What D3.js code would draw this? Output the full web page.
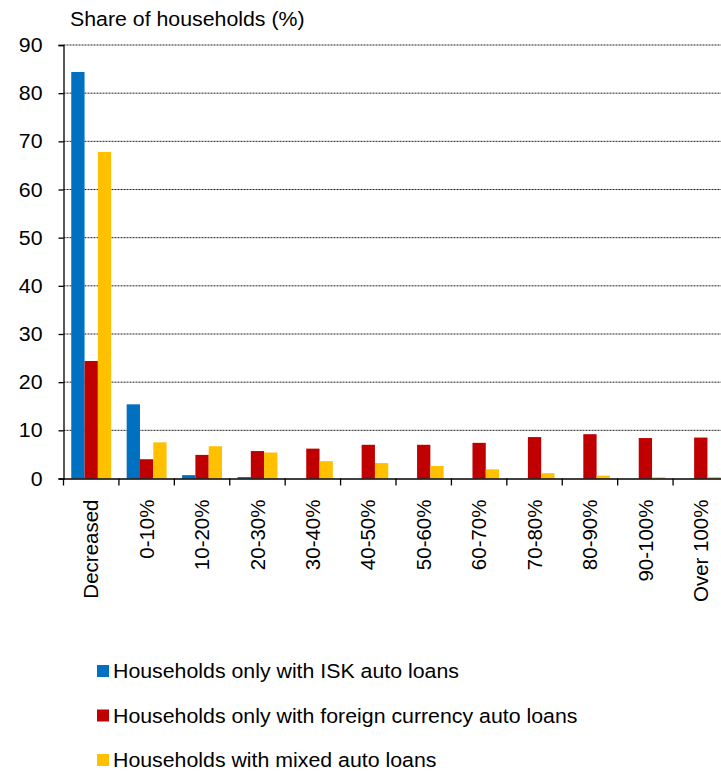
<!DOCTYPE html>
<html>
<head>
<meta charset="utf-8">
<script src="https://cdn.jsdelivr.net/npm/d3@7"></script>
<style>
  html, body { margin: 0; padding: 0; background: #fff; }
  svg { display: block; }
  text { font-family: "Liberation Sans", Arial, sans-serif; fill: #000; }
</style>
</head>
<body>
<svg id="chart" width="721" height="771"></svg>
<script>
// Change categories (x axis)
const categories = ["Decreased", "0-10%", "10-20%", "20-30%", "30-40%", "40-50%",
  "50-60%", "60-70%", "70-80%", "80-90%", "90-100%", "Over 100%"];

// Share of households (%) per category
const iskOnly     = [84.4, 15.4, 0.7, 0.3, 0, 0, 0, 0, 0, 0, 0, 0];
const foreignOnly = [24.4, 4.0, 4.9, 5.7, 6.2, 7.0, 7.0, 7.4, 8.6, 9.2, 8.4, 8.5];
const mixed       = [67.8, 7.5, 6.7, 5.4, 3.6, 3.2, 2.6, 1.9, 1.1, 0.6, 0.25, 0.3];

const seriesNames = [
  "Households only with ISK auto loans",
  "Households only with foreign currency auto loans",
  "Households with mixed auto loans"
];
const seriesColors = ["#0070C0", "#C00000", "#FFC000"];
const yTicks = [0, 10, 20, 30, 40, 50, 60, 70, 80, 90];
const yTitle = "Share of households (%)";

const seriesValues = [iskOnly, foreignOnly, mixed];
const svg = d3.select("#chart");
const fontSize = 20.5;
const stretch = 1.04; // slightly wide lettering for horizontal labels

const plotLeft = 63.5, plotRight = 728.5, plotTop = 45, plotBottom = 478.5;

const x = d3.scaleBand().domain(categories).range([plotLeft, plotRight]).padding(0);
const bw = x.bandwidth();
const groupGap = bw * 0.28;
const x1 = d3.scaleBand().domain(d3.range(3)).range([groupGap / 2, bw - groupGap / 2]).padding(0);
const y = d3.scaleLinear().domain([0, 90]).range([plotBottom, plotTop]);

// Gridlines
svg.append("g")
  .selectAll("line")
  .data(yTicks.filter(d => d > 0))
  .join("line")
  .attr("x1", plotLeft).attr("x2", plotRight)
  .attr("y1", d => y(d)).attr("y2", d => y(d))
  .attr("stroke", "#222")
  .attr("stroke-width", 1)
  .attr("stroke-dasharray", "2,1");

// Bars
const rows = categories.map((c, i) => ({ c, vals: seriesValues.map(s => s[i]) }));
const groups = svg.append("g").selectAll("g")
  .data(rows)
  .join("g")
  .attr("transform", d => `translate(${x(d.c)},0)`);
groups.selectAll("rect")
  .data(d => d.vals.map((v, k) => ({ v, k })))
  .join("rect")
  .attr("x", d => x1(d.k))
  .attr("width", x1.bandwidth())
  .attr("y", d => y(d.v))
  .attr("height", d => y(0) - y(d.v))
  .attr("fill", d => seriesColors[d.k]);

// Y axis
const yAxis = svg.append("g")
  .attr("transform", `translate(${plotLeft},0)`)
  .call(d3.axisLeft(y).tickValues(yTicks).tickSize(5).tickPadding(0).tickFormat(d3.format("d")));
yAxis.select(".domain").attr("stroke", "#000").attr("stroke-width", 1.3);
yAxis.selectAll(".tick line").attr("stroke", "#000").attr("stroke-width", 1.3);
yAxis.selectAll(".tick text")
  .attr("x", null)
  .attr("transform", `translate(-21,0) scale(${stretch},1)`)
  .style("font-family", "Liberation Sans, Arial, sans-serif")
  .style("font-size", fontSize + "px")
  .attr("fill", "#000");

// X axis
const xAxis = svg.append("g")
  .attr("transform", `translate(0,${plotBottom})`)
  .call(d3.axisBottom(x).tickSize(0).tickFormat(""));
xAxis.select(".domain").attr("stroke", "#000").attr("stroke-width", 1.3);
xAxis.selectAll(".tick").remove();

// Category separators below the axis
svg.append("g")
  .selectAll("line")
  .data(categories)
  .join("line")
  .attr("x1", d => x(d)).attr("x2", d => x(d))
  .attr("y1", plotBottom).attr("y2", plotBottom + 7)
  .attr("stroke", "#000").attr("stroke-width", 1.3);

// Rotated category labels
svg.append("g")
  .selectAll("text")
  .data(categories)
  .join("text")
  .attr("transform", d => `translate(${x(d) + bw / 2},${plotBottom + 21}) rotate(-90)`)
  .attr("text-anchor", "end")
  .attr("dy", "0.35em")
  .style("font-size", fontSize + "px")
  .text(d => d);

// Axis title
svg.append("text")
  .attr("transform", `translate(70,26) scale(${stretch},1)`)
  .style("font-size", fontSize + "px")
  .text(yTitle);

// Legend
const legend = svg.append("g")
  .selectAll("g")
  .data(seriesNames)
  .join("g")
  .attr("transform", (d, i) => `translate(97,${671 + i * 44.5})`);
legend.append("rect")
  .attr("x", 0).attr("y", -6).attr("width", 12).attr("height", 12)
  .attr("fill", (d, i) => seriesColors[i]);
legend.append("text")
  .attr("transform", `translate(16,0) scale(${stretch},1)`)
  .attr("dy", "0.36em")
  .style("font-size", fontSize + "px")
  .text(d => d);
</script>
</body>
</html>
